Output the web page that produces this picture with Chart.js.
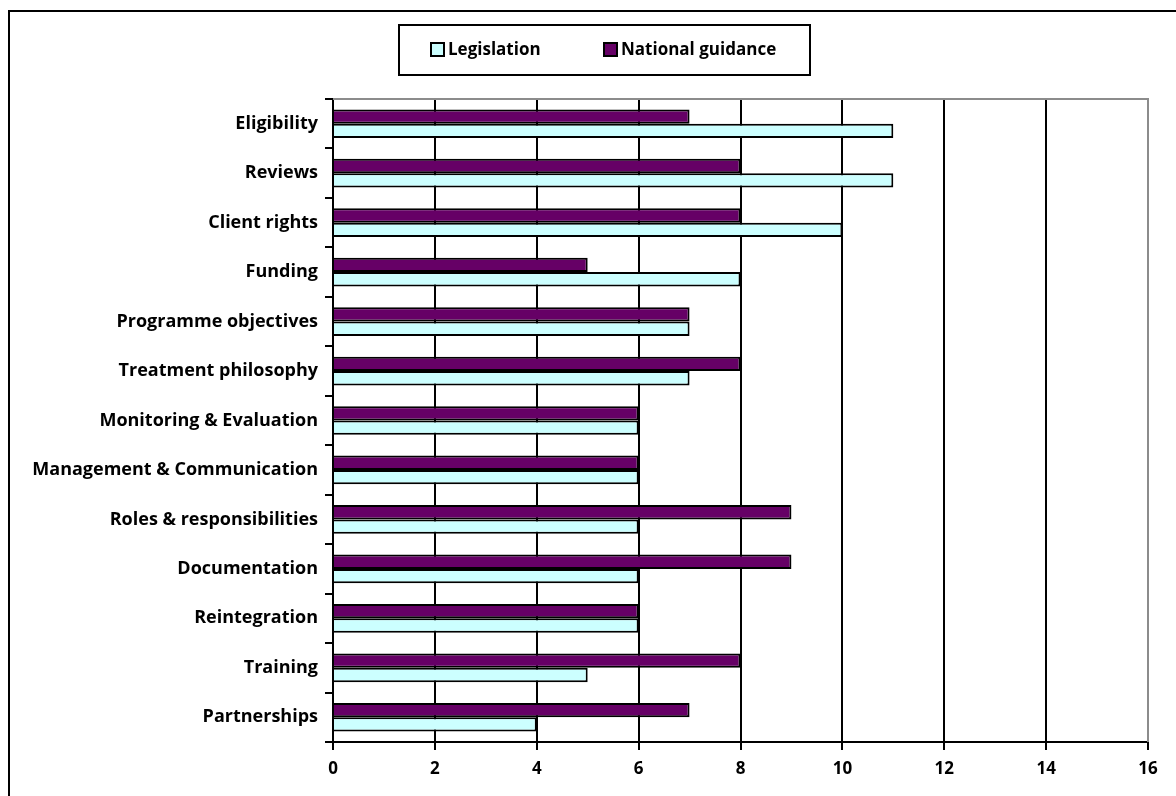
<!DOCTYPE html>
<html>
<head>
<meta charset="utf-8">
<script src="https://cdn.jsdelivr.net/npm/chart.js@4/dist/chart.umd.min.js"></script>
<style>
  body { margin: 0; background: #fff; }
  canvas { display: block; }
</style>
</head>
<body>
<canvas id="c" width="1176" height="796"></canvas>
<script>
const categories = [
  "Eligibility", "Reviews", "Client rights", "Funding", "Programme objectives",
  "Treatment philosophy", "Monitoring & Evaluation", "Management & Communication",
  "Roles & responsibilities", "Documentation", "Reintegration", "Training", "Partnerships"
];
const legislation = [11, 11, 10, 8, 7, 7, 6, 6, 6, 6, 6, 5, 4];
const nationalGuidance = [7, 8, 8, 5, 7, 8, 6, 6, 9, 9, 6, 8, 7];
const xTicks = [0, 2, 4, 6, 8, 10, 12, 14, 16];

const FONT = "'Open Sans'";

// frame, legend box and grey top border
const decor = {
  id: "decor",
  beforeDraw(chart) {
    const ctx = chart.ctx;
    ctx.save();
    ctx.fillStyle = "#fff";
    ctx.fillRect(0, 0, chart.width, chart.height);
    ctx.strokeStyle = "#000";
    ctx.lineWidth = 2;
    ctx.beginPath();
    ctx.moveTo(9, 796);
    ctx.lineTo(9, 11);
    ctx.lineTo(1176, 11);
    ctx.stroke();
    ctx.restore();
  },
  afterDraw(chart) {
    const ctx = chart.ctx;
    const a = chart.chartArea;
    ctx.save();
    ctx.strokeStyle = "#8c8c8c";
    ctx.lineWidth = 2;
    ctx.beginPath();
    ctx.moveTo(a.left, a.top);
    ctx.lineTo(a.right, a.top);
    ctx.lineTo(a.right, a.bottom);
    ctx.stroke();

    // legend
    ctx.strokeStyle = "#000";
    ctx.lineWidth = 2;
    ctx.strokeRect(399, 25, 411, 50);
    const items = [
      { ds: chart.data.datasets[1], x: 431 },
      { ds: chart.data.datasets[0], x: 604 }
    ];
    ctx.font = "bold 17px " + FONT;
    ctx.textBaseline = "middle";
    items.forEach(it => {
      ctx.fillStyle = it.ds.backgroundColor;
      ctx.fillRect(it.x, 43, 13, 13);
      ctx.strokeRect(it.x, 43, 13, 13);
      ctx.fillStyle = "#000";
      ctx.fillText(it.ds.label, it.x + 17, 50);
    });
    ctx.restore();
  }
};

new Chart(document.getElementById("c"), {
  type: "bar",
  data: {
    labels: categories,
    datasets: [
      {
        label: "National guidance",
        data: nationalGuidance,
        backgroundColor: "#660066",
        borderColor: "#000",
        borderWidth: 2,
        barPercentage: 1,
        categoryPercentage: 0.58
      },
      {
        label: "Legislation",
        data: legislation,
        backgroundColor: "#ccffff",
        borderColor: "#000",
        borderWidth: 2,
        barPercentage: 1,
        categoryPercentage: 0.58
      }
    ]
  },
  options: {
    indexAxis: "y",
    responsive: false,
    animation: false,
    layout: { padding: { top: 99, right: 28, left: 0, bottom: 0 } },
    plugins: {
      legend: { display: false },
      tooltip: { enabled: false }
    },
    scales: {
      x: {
        min: 0,
        max: 16,
        afterBuildTicks(scale) {
          scale.ticks = xTicks.map(v => ({ value: v }));
        },
        afterFit(scale) { scale.height = 54; },
        grid: {
          color: ctx => (ctx.tick && ctx.tick.value === 16 ? "#8c8c8c" : "#000"),
          lineWidth: 2,
          tickLength: 8,
          tickColor: "#000"
        },
        border: { color: "#000", width: 2 },
        ticks: {
          color: "#000",
          padding: 9,
          maxRotation: 0,
          font: { family: FONT, size: 17, weight: "bold" }
        }
      },
      y: {
        afterFit(scale) { scale.width = 333; },
        grid: {
          offset: true,
          drawOnChartArea: false,
          color: "#000",
          lineWidth: 2,
          tickLength: 8
        },
        border: { color: "#000", width: 2 },
        ticks: {
          color: "#000",
          padding: 7,
          font: { family: FONT, size: 18, weight: "bold" }
        }
      }
    }
  },
  plugins: [decor]
});
</script>
</body>
</html>
